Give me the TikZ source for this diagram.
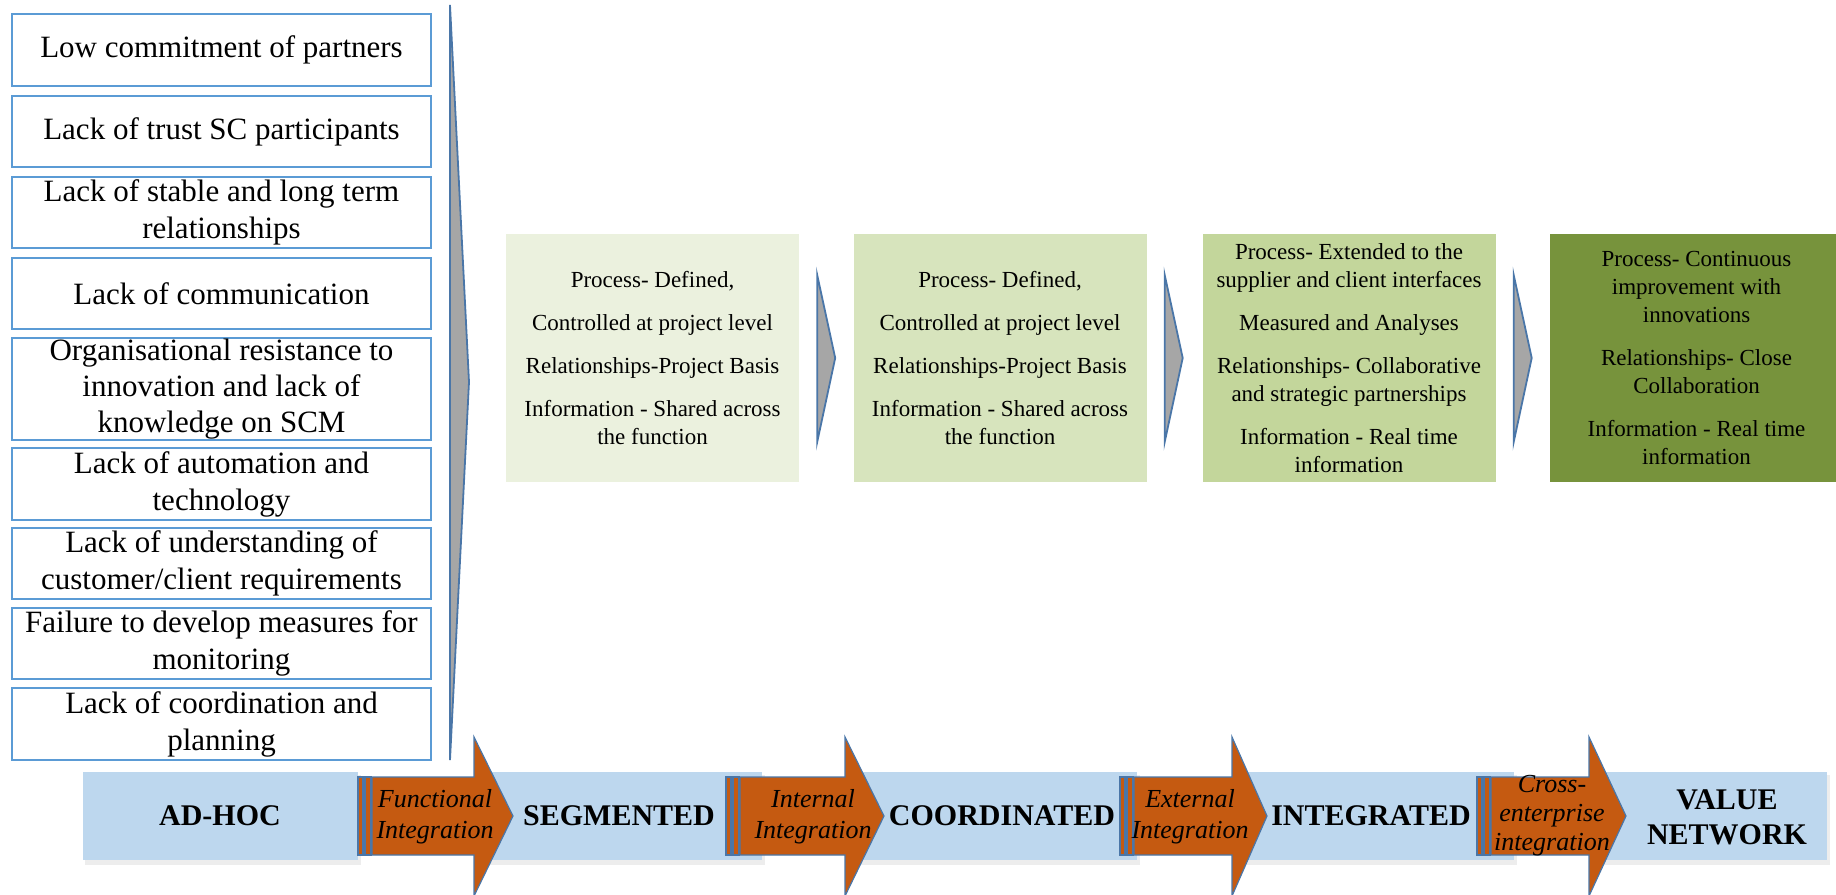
\documentclass[tikz,border=0pt]{standalone}
\usepackage{fontspec}
\setmainfont{Liberation Serif}
\definecolor{boxblue}{HTML}{5B9BD5}
\definecolor{edgeblue}{HTML}{4A76A8}
\definecolor{arroworange}{HTML}{C55A11}
\definecolor{chevgray}{HTML}{A6A6A6}
\definecolor{stageblue}{HTML}{BDD7EE}
\definecolor{greenA}{HTML}{EBF1DE}
\definecolor{greenB}{HTML}{D7E4BD}
\definecolor{greenC}{HTML}{C3D69B}
\definecolor{greenD}{HTML}{77933C}
\begin{document}
\begin{tikzpicture}[x=1pt,y=-1pt,
  barrier/.style={draw=boxblue, line width=1.8pt, fill=white, minimum width=419pt,
    inner sep=0pt, align=center, font=\fontsize{31}{37}\selectfont},
  levelbox/.style={minimum width=293pt, minimum height=248pt, inner sep=0pt,
    align=center, font=\fontsize{23}{28}\selectfont},
  chevron/.style={fill=chevgray, draw=edgeblue, line width=1.8pt, line join=miter},
  stagebar/.style={fill=stageblue, draw=none},
  stageshadow/.style={fill=black, opacity=0.07, draw=none},
  stagelabel/.style={font=\fontsize{30}{35}\selectfont\bfseries, align=center, inner sep=0pt},
  steparrow/.style={fill=arroworange, draw=edgeblue, line width=1.2pt, line join=miter},
  arrowlabel/.style={font=\fontsize{26}{31}\selectfont\itshape, align=center, inner sep=0pt},
]
\useasboundingbox (0,0) rectangle (1836,894);

% ---------- barriers on the left ----------
\node[barrier, minimum height=72pt]  (b1) at (221.5,50)    {Low commitment of partners};
\node[barrier, minimum height=71pt]  (b2) at (221.5,131.5) {Lack of trust SC participants};
\node[barrier, minimum height=71pt]  (b3) at (221.5,212.5) {Lack of stable and long term\\relationships};
\node[barrier, minimum height=71pt]  (b4) at (221.5,293.5) {Lack of communication};
\node[barrier, minimum height=102pt, font=\fontsize{31}{36}\selectfont] (b5) at (221.5,389)
  {Organisational resistance to\\innovation and lack of\\knowledge on SCM};
\node[barrier, minimum height=72pt]  (b6) at (221.5,484)   {Lack of automation and\\technology};
\node[barrier, minimum height=71pt]  (b7) at (221.5,563.5) {Lack of understanding of\\customer/client requirements};
\node[barrier, minimum height=71pt]  (b8) at (221.5,643.5) {Failure to develop measures for\\monitoring};
\node[barrier, minimum height=72pt]  (b9) at (221.5,724)   {Lack of coordination and\\planning};

% tall chevron beside the barriers
\path[chevron] (450,5) -- (469,382) -- (450,760) -- cycle;

% ---------- maturity descriptions ----------
\node[levelbox, fill=greenA] (m1) at (652.5,358)
  {Process- Defined,\\[15pt]Controlled at project level\\[15pt]Relationships-Project Basis\\[15pt]Information - Shared across\\the function};
\node[levelbox, fill=greenB] (m2) at (1000,358)
  {Process- Defined,\\[15pt]Controlled at project level\\[15pt]Relationships-Project Basis\\[15pt]Information - Shared across\\the function};
\node[levelbox, fill=greenC] (m3) at (1349,358)
  {Process- Extended to the\\supplier and client interfaces\\[15pt]Measured and Analyses\\[15pt]Relationships- Collaborative\\and strategic partnerships\\[15pt]Information - Real time\\information};
\node[levelbox, fill=greenD] (m4) at (1696.5,358)
  {Process- Continuous\\improvement with\\innovations\\[15pt]Relationships- Close\\Collaboration\\[15pt]Information - Real time\\information};

% chevrons between the descriptions
\foreach \m in {m1,m2,m3}{
  \path[chevron] ([xshift=18pt,yshift=83pt]\m.east) -- ([xshift=36pt]\m.east)
    -- ([xshift=18pt,yshift=-84pt]\m.east) -- cycle;
}

% ---------- stage bar at the bottom ----------
\foreach \xa/\xb in {83/358, 474/762, 845/1137, 1232/1514, 1589/1827}{
  \path[stageshadow] (\xa+2,775) rectangle (\xb+3,865);
  \path[stagebar] (\xa,772) rectangle (\xb,860);
}
\node[stagelabel] (s1) at (220,816)  {AD-HOC};
\node[stagelabel] (s2) at (619,816)  {SEGMENTED};
\node[stagelabel] (s3) at (1002,816) {COORDINATED};
\node[stagelabel] (s4) at (1371,816) {INTEGRATED};
\node[stagelabel] (s5) at (1727,817) {VALUE\\NETWORK};

% striped arrows between stages: start / head base / tip
\foreach \xs/\xh/\xt in {372/474/513, 740/845/884, 1134/1232/1267, 1491/1589/1626}{
  \path[steparrow] (\xs-14,777) rectangle (\xs-9,855);
  \path[steparrow] (\xs-7,777) rectangle (\xs-1,855);
  \path[steparrow] (\xs,777) -- (\xh,777) -- (\xh,737) -- (\xt,816)
    -- (\xh,896) -- (\xh,855) -- (\xs,855) -- cycle;
}
\node[arrowlabel] (t1) at (435,817)  {Functional\\Integration};
\node[arrowlabel] (t2) at (813,817)  {Internal\\Integration};
\node[arrowlabel] (t3) at (1190,817) {External\\Integration};
\node[arrowlabel, font=\fontsize{26}{29}\selectfont\itshape] (t4) at (1552,816)
  {Cross-\\enterprise\\integration};
\end{tikzpicture}
\end{document}
